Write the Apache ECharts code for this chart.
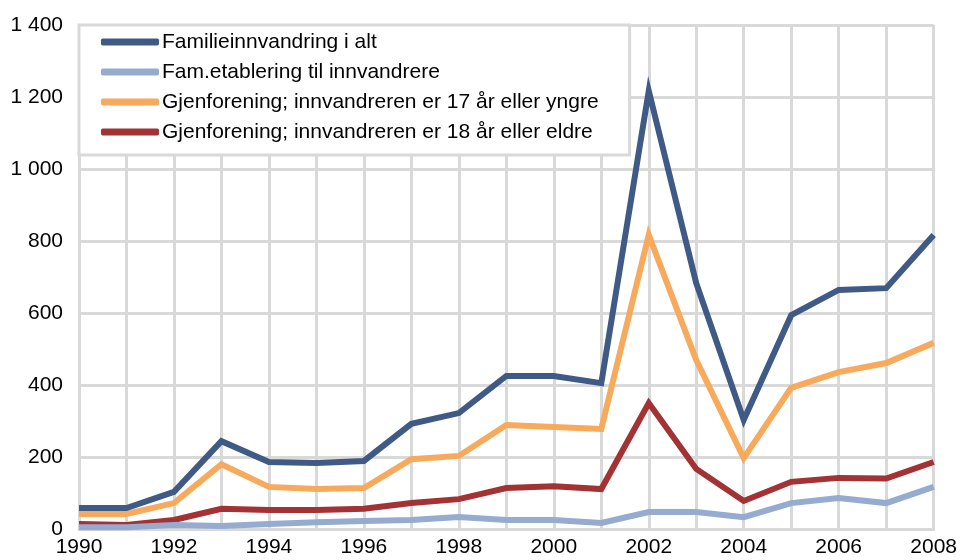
<!DOCTYPE html>
<html><head><meta charset="utf-8">
<script src="https://cdn.jsdelivr.net/npm/echarts@6/dist/echarts.min.js"></script>
<style>html,body{margin:0;padding:0;background:#fff}#c{width:960px;height:560px}</style>
</head><body><div id="c"></div>
<script>
const years = ['1990','1991','1992','1993','1994','1995','1996','1997','1998','1999','2000','2001','2002','2003','2004','2005','2006','2007','2008'];
const seriesNames = ['Familieinnvandring i alt','Fam.etablering til innvandrere','Gjenforening; innvandreren er 17 år eller yngre','Gjenforening; innvandreren er 18 år eller eldre'];
const totalValues = [58,58,103,244,186,183,189,292,322,425,425,405,1217,683,303,594,664,669,817];
const etableringValues = [5,5,11,8,14,19,22,25,33,25,25,17,47,47,33,72,86,72,117];
const under18Values = [42,42,72,180,117,111,114,194,203,289,283,278,817,469,197,392,436,461,517];
const over18Values = [14,11,25,56,53,53,56,72,83,114,119,111,350,167,78,131,142,140,186];
const colors = ['#3f5a85','#95abd0','#f7a95c','#a33234'];
const grid = '#d9d9d9';
const font = 'Liberation Sans, Arial, sans-serif';
const chart = echarts.init(document.getElementById('c'));
const data = [totalValues, etableringValues, under18Values, over18Values];
chart.setOption({
  animation: false,
  color: colors,
  grid: {left: 79, right: 23, top: 25, bottom: 31, containLabel: false},
  legend: {
    left: 79, top: 25, orient: 'vertical',
    backgroundColor: '#fff', borderColor: grid, borderWidth: 3,
    padding: [5, 31, 11, 22], itemGap: 6, itemWidth: 58, itemHeight: 7,
    icon: 'roundRect',
    textStyle: {fontFamily: font, fontSize: 21, color: '#000', lineHeight: 24, padding: [0,0,0,-2]},
    data: seriesNames
  },
  xAxis: {
    type: 'category', data: years, boundaryGap: false,
    axisLine: {lineStyle: {color: grid, width: 3}},
    axisTick: {show: false},
    axisLabel: {interval: 1, color: '#000', fontFamily: font, fontSize: 21, margin: 8},
    splitLine: {show: true, interval: 0, lineStyle: {color: grid, width: 3}}
  },
  yAxis: {
    type: 'value', min: 0, max: 1400, interval: 200,
    axisLine: {show: true, lineStyle: {color: grid, width: 3}},
    axisTick: {show: false},
    axisLabel: {color: '#000', fontFamily: font, fontSize: 21, margin: 16,
      formatter: v => v >= 1000 ? Math.floor(v/1000) + ' ' + String(v % 1000).padStart(3,'0') : String(v)},
    splitLine: {show: true, lineStyle: {color: grid, width: 3}}
  },
  series: seriesNames.map((n, i) => ({
    name: n, type: 'line', data: data[i], symbol: 'none',
    lineStyle: {width: 6, color: colors[i], join: 'miter'},
    z: 10 - i
  }))
});
</script></body></html>
